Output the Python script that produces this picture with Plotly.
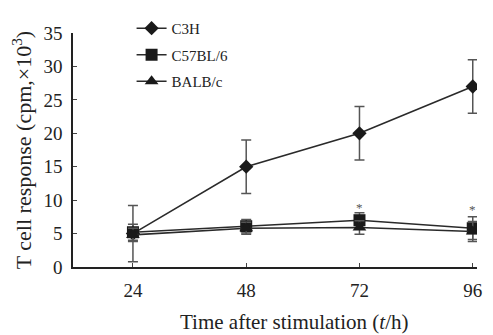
import plotly.graph_objects as go

hours = [24, 48, 72, 96]
c3h = [5.0, 15.0, 20.0, 27.0]
c3h_err = [4.2, 4.0, 4.0, 4.0]
c57 = [5.2, 6.1, 7.0, 5.8]
c57_err = [1.2, 1.0, 1.1, 1.7]
balb = [4.8, 5.8, 5.9, 5.3]
balb_err = [1.0, 0.9, 1.0, 1.5]
sig_hours = [72, 96]
sig_y = [8.9, 8.6]
y_ticks = [0, 5, 10, 15, 20, 25, 30, 35]

FONT = "Liberation Serif"
LINE = "#2a2a2a"

fig = go.Figure()

def add(name, y, err, symbol, size, group):
    fig.add_trace(go.Scatter(
        x=hours, y=y, name=name, mode="lines+markers",
        legendgroup=group,
        line=dict(color=LINE, width=1.6),
        marker=dict(symbol=symbol, size=size, color="#1a1a1a"),
        error_y=dict(type="data", array=err, visible=True, color="#555555",
                     thickness=1.5, width=5),
    ))

add("C3H", c3h, c3h_err, "diamond", 11, "a")
add("C57BL/6", c57, c57_err, "square", 12, "b")
add("BALB/c", balb, balb_err, "triangle-up", 12, "c")

annotations = [dict(text="Time after stimulation (<i>t</i>/h)",
                    xref="paper", yref="paper", x=0.547, y=0, yshift=-55,
                    showarrow=False, font=dict(size=21), yanchor="middle")]
for hx, hy in zip(sig_hours, sig_y):
    annotations.append(dict(text="*", x=hx, y=hy, xref="x", yref="y",
                            showarrow=False,
                            font=dict(family=FONT, size=13, color="#555555")))

fig.update_layout(
    width=493, height=335,
    margin=dict(l=73, r=16, t=16, b=68),
    paper_bgcolor="white", plot_bgcolor="white",
    font=dict(family=FONT, size=19, color="#222222"),
    showlegend=True,
    legend=dict(x=0.145, y=1.09, xanchor="left", yanchor="top",
                bgcolor="rgba(0,0,0,0)", font=dict(family=FONT, size=15),
                traceorder="grouped", tracegroupgap=4),
    xaxis=dict(range=[11.3, 96.9], tickvals=hours, ticks="inside", ticklen=4,
               showline=True, linecolor="#222222", linewidth=1.5,
               showgrid=False, zeroline=False, tickfont=dict(size=19),
               ticklabelstandoff=5),
    yaxis=dict(range=[0, 35], tickvals=y_ticks, ticks="inside", ticklen=4,
               showline=True, linecolor="#222222", linewidth=1.5,
               showgrid=False, zeroline=False, tickfont=dict(size=19),
               ticklabelstandoff=5,
               title=dict(text="T cell response (cpm,×10<sup>3</sup>)",
                          font=dict(size=22), standoff=6)),
    annotations=annotations,
)

fig.write_html("out.html", post_script="document.body.style.margin='0';",
               config={"displayModeBar": False})
